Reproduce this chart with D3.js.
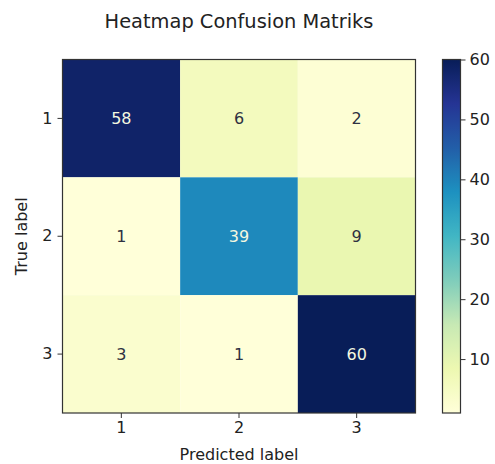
<!DOCTYPE html>
<html>
<head>
<meta charset="utf-8">
<script src="https://cdn.jsdelivr.net/npm/d3@7"></script>
<style>
  html, body { margin: 0; padding: 0; background: #fff; }
  svg { display: block; font-family: "DejaVu Sans", sans-serif; }
</style>
</head>
<body>
<svg id="chart" width="495" height="464"></svg>
<script>
// Confusion matrix: rows = true label, columns = predicted label
const classes = ["1", "2", "3"];
const row1 = [58, 6, 2];
const row2 = [1, 39, 9];
const row3 = [3, 1, 60];
const matrix = [row1, row2, row3];
const colorbarTicks = [10, 20, 30, 40, 50, 60];
const valueRange = [1, 60];

// matplotlib YlGnBu anchor colours
const ylgnbu = ["#ffffd9", "#edf8b1", "#c7e9b4", "#7fcdbb", "#41b6c4",
                "#1d91c0", "#225ea8", "#253494", "#081d58"];
const interp = d3.piecewise(d3.interpolateRgb, ylgnbu);
const color = d3.scaleSequential(interp).domain(valueRange);

const svg = d3.select("#chart");
const margin = { left: 62.5, top: 59.5, right: 415.5, bottom: 413 };
const x = d3.scaleBand().domain(classes).range([margin.left, margin.right]);
const y = d3.scaleBand().domain(classes).range([margin.top, margin.bottom]);

const cells = [];
matrix.forEach((row, i) => row.forEach((v, j) => cells.push({ t: classes[i], p: classes[j], v })));

svg.append("g").selectAll("rect").data(cells).join("rect")
  .attr("x", d => x(d.p)).attr("y", d => y(d.t))
  .attr("width", x.bandwidth()).attr("height", y.bandwidth())
  .attr("fill", d => color(d.v));

// value labels: light text on dark cells, dark text on light cells
const thresh = (d3.max(cells, d => d.v) + d3.min(cells, d => d.v)) / 2;
svg.append("g").selectAll("text").data(cells).join("text")
  .attr("x", d => x(d.p) + x.bandwidth() / 2)
  .attr("y", d => y(d.t) + y.bandwidth() / 2)
  .attr("text-anchor", "middle").attr("dominant-baseline", "central")
  .attr("font-size", 16)
  .attr("fill", d => d.v < thresh ? "#2e3142" : "#f4f8e0")
  .text(d => d.v);

// frame
svg.append("rect")
  .attr("x", margin.left).attr("y", margin.top)
  .attr("width", margin.right - margin.left).attr("height", margin.bottom - margin.top)
  .attr("fill", "none").attr("stroke", "#333").attr("stroke-width", 1.2);

// axes
const xAxis = svg.append("g").attr("transform", `translate(0,${margin.bottom})`)
  .call(d3.axisBottom(x).tickSize(5).tickPadding(4));
const yAxis = svg.append("g").attr("transform", `translate(${margin.left},0)`)
  .call(d3.axisLeft(y).tickSize(5).tickPadding(5));
[xAxis, yAxis].forEach(g => {
  g.select(".domain").remove();
  g.selectAll("text").attr("font-size", 16).attr("fill", "#222").attr("font-family", "DejaVu Sans, sans-serif");
  g.selectAll("line").attr("stroke", "#333").attr("stroke-width", 1);
});

svg.append("text").attr("x", (margin.left + margin.right) / 2).attr("y", 460)
  .attr("text-anchor", "middle").attr("font-size", 16).attr("fill", "#222")
  .text("Predicted label");
svg.append("text").attr("transform", `translate(27,${(margin.top + margin.bottom) / 2}) rotate(-90)`)
  .attr("text-anchor", "middle").attr("font-size", 16).attr("fill", "#222")
  .text("True label");

svg.append("text").attr("x", 239).attr("y", 28)
  .attr("text-anchor", "middle").attr("font-size", 19.4).attr("fill", "#222")
  .text("Heatmap Confusion Matriks");

// colorbar
const cb = { x: 442.5, w: 18, top: 59.5, bottom: 413 };
const cbScale = d3.scaleLinear().domain(valueRange).range([cb.bottom, cb.top]);
const grad = svg.append("defs").append("linearGradient")
  .attr("id", "cbgrad").attr("x1", 0).attr("y1", 1).attr("x2", 0).attr("y2", 0);
grad.selectAll("stop").data(d3.range(0, 1.0001, 1 / 32)).join("stop")
  .attr("offset", d => d).attr("stop-color", d => interp(d));
svg.append("rect").attr("x", cb.x).attr("y", cb.top)
  .attr("width", cb.w).attr("height", cb.bottom - cb.top)
  .attr("fill", "url(#cbgrad)").attr("stroke", "#333").attr("stroke-width", 1.2);
const cbAxis = svg.append("g").attr("transform", `translate(${cb.x + cb.w},0)`)
  .call(d3.axisRight(cbScale).tickValues(colorbarTicks).tickSize(5).tickPadding(4));
cbAxis.select(".domain").remove();
cbAxis.selectAll("text").attr("font-size", 16).attr("fill", "#222").attr("font-family", "DejaVu Sans, sans-serif");
cbAxis.selectAll("line").attr("stroke", "#333");
</script>
</body>
</html>
